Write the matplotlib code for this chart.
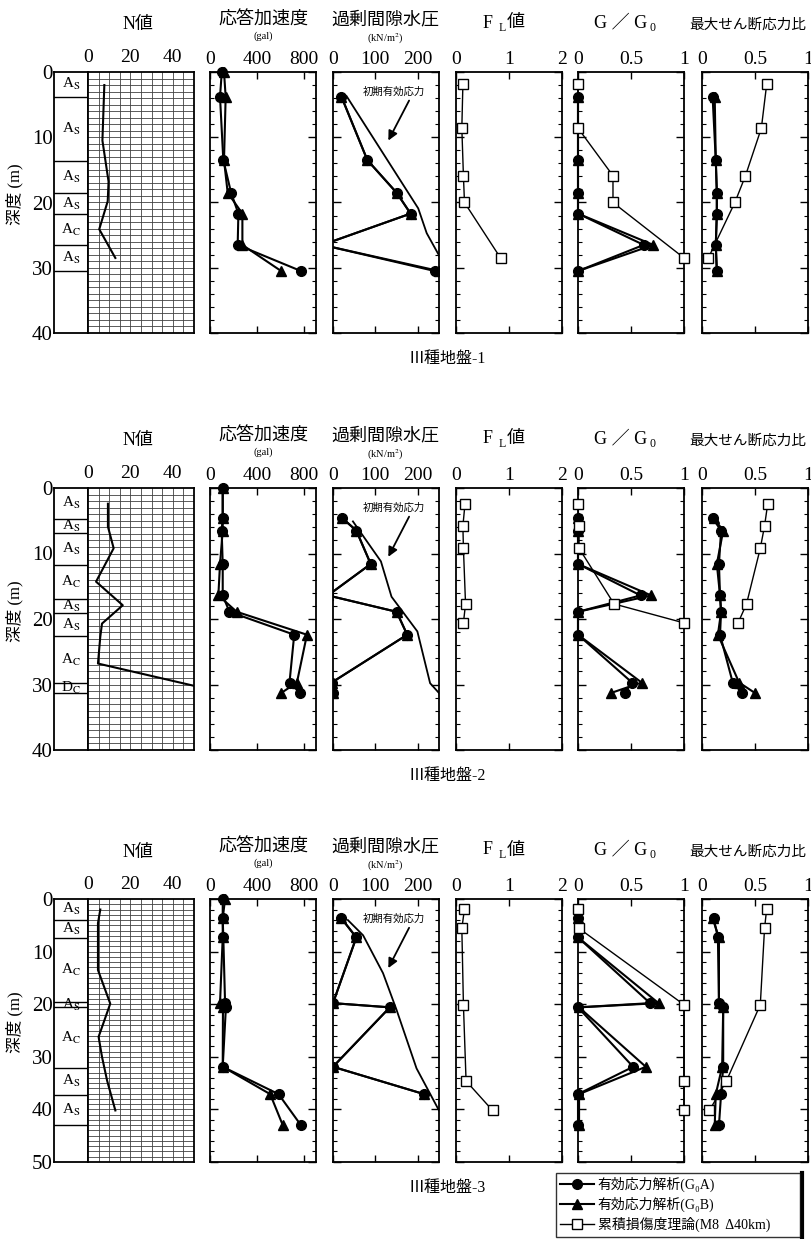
import numpy as np
import matplotlib
matplotlib.use('Agg')
import matplotlib.pyplot as plt
from matplotlib.lines import Line2D

plt.rcParams['font.family'] = ['Liberation Serif', 'Noto Sans CJK JP', 'DejaVu Sans']
plt.rcParams['mathtext.fontset'] = 'stix'

# ---- site 1 ----
s1_layer_bounds = [0, 3.8, 13.7, 18.6, 21.8, 26.5, 30.5]
s1_soils = ['As', 'As', 'As', 'As', 'Ac', 'As']
s1_n_depth = [2.0, 10.5, 16.8, 19.8, 24.1, 28.5]
s1_n_value = [7.7, 6.8, 9.7, 9.3, 5.3, 12.9]
s1_acc_depth = [0, 3.8, 13.5, 18.5, 21.7, 26.5, 30.5]
s1_acc_a = [100, 85, 113, 179, 241, 235, 772]
s1_acc_b = [119, 133, 119, 150, 275, 275, 604]
s1_depth = [3.8, 13.5, 18.5, 21.7, 26.5, 30.5]
s1_pp_a = [20, 81, 150, 183, -25, 240]
s1_pp_b = [20, 81, 150, 183, -25, 250]
s1_sig_depth = [3.7, 20.9, 24.7, 28.1]
s1_sig = [32, 201, 221, 250]
s1_gg_a = [0, 0, 0, 0, 0.62, 0]
s1_gg_b = [0, 0, 0, 0, 0.71, 0]
s1_tau_a = [0.10, 0.13, 0.14, 0.14, 0.13, 0.14]
s1_tau_b = [0.12, 0.13, 0.14, 0.14, 0.13, 0.14]
s1_sq_depth = [1.9, 8.6, 15.9, 20.0, 28.5]
s1_fl = [0.13, 0.11, 0.14, 0.16, 0.84]
s1_gg_sq = [0.0, 0.0, 0.33, 0.33, 1.0]
s1_tau_sq = [0.61, 0.56, 0.41, 0.31, 0.06]

# ---- site 2 ----
s2_layer_bounds = [0, 4.7, 6.9, 11.8, 16.9, 19.1, 22.6, 29.8, 31.3]
s2_soils = ['As', 'As', 'As', 'Ac', 'As', 'As', 'Ac', 'Dc']
s2_n_depth = [2.4, 5.9, 9.2, 14.3, 17.9, 20.7, 22.7, 26.8, 30.2]
s2_n_value = [9.4, 9.4, 12.1, 3.8, 16.4, 6.6, 5.8, 4.7, 50]
s2_acc_depth = [0, 4.6, 6.5, 11.6, 16.4, 18.9, 22.4, 29.7, 31.3]
s2_acc_a = [108, 108, 99, 108, 108, 165, 715, 675, 766]
s2_acc_b = [108, 108, 108, 85, 71, 227, 823, 738, 604]
s2_depth = [4.6, 6.5, 11.6, 16.4, 18.9, 22.4, 29.7, 31.3]
s2_pp_a = [22, 55, 89, -12, 150, 175, -3, 0]
s2_pp_b = [22, 55, 89, -12, 150, 175, -3, 0]
s2_sig_depth = [5.1, 11.2, 16.6, 21.9, 29.8, 31.3]
s2_sig = [47, 113, 138, 199, 229, 250]
s2_gg_a = [0, 0, 0, 0.59, 0, 0, 0.51, 0.44]
s2_gg_b = [0, 0, 0, 0.69, 0, 0, 0.60, 0.31]
s2_tau_a = [0.10, 0.18, 0.16, 0.17, 0.18, 0.17, 0.29, 0.38]
s2_tau_b = [0.11, 0.20, 0.14, 0.17, 0.18, 0.15, 0.35, 0.50]
s2_sq_depth = [2.4, 5.8, 9.2, 17.7, 20.6]
s2_fl = [0.17, 0.13, 0.14, 0.18, 0.14]
s2_gg_sq = [0.0, 0.01, 0.01, 0.34, 1.0]
s2_tau_sq = [0.62, 0.59, 0.55, 0.42, 0.34]

# ---- site 3 ----
s3_layer_bounds = [0, 3.9, 7.5, 19.5, 20.6, 32.1, 37.2, 43.0]
s3_soils = ['As', 'As', 'Ac', 'As', 'Ac', 'As', 'As']
s3_n_depth = [2.0, 4.6, 13.5, 19.9, 26.2, 30.0, 34.5, 40.2]
s3_n_value = [5.8, 4.7, 4.7, 10.5, 5.0, 6.6, 9.0, 12.9]
s3_acc_depth = [0, 3.7, 7.3, 19.8, 20.6, 31.9, 37.1, 43.0]
s3_acc_a = [108, 108, 113, 128, 135, 108, 582, 772]
s3_acc_b = [128, 108, 108, 85, 110, 108, 511, 618]
s3_depth = [3.7, 7.3, 19.8, 20.6, 31.9, 37.1, 43.0]
s3_pp_a = [20, 55, 0, 134, 0, 215, np.nan]
s3_pp_b = [20, 55, 0, 134, 0, 215, np.nan]
s3_sig_depth = [4.0, 6.9, 14.1, 21.1, 32.2, 40.2]
s3_sig = [35, 71, 118, 150, 197, 250]
s3_gg_a = [0, 0, 0.68, 0, 0.52, 0, 0]
s3_gg_b = [0, 0, 0.76, 0.01, 0.64, 0.01, 0.01]
s3_tau_a = [0.11, 0.15, 0.16, 0.20, 0.20, 0.18, 0.16]
s3_tau_b = [0.10, 0.16, 0.16, 0.20, 0.19, 0.13, 0.12]
s3_sq_depth = [1.9, 5.6, 20.1, 34.6, 40.2]
s3_fl = [0.16, 0.11, 0.14, 0.19, 0.69]
s3_gg_sq = [0.0, 0.01, 1.0, 1.0, 1.0]
s3_tau_sq = [0.61, 0.59, 0.55, 0.23, 0.07]

captions = ['Ⅲ種地盤-1', 'Ⅲ種地盤-2', 'Ⅲ種地盤-3']
legend_labels = ['有効応力解析(G₀A)', '有効応力解析(G₀B)', '累積損傷度理論(M8  Δ40km)']

sites = [
    dict(top=72, bottom=333, dmax=40, bounds=s1_layer_bounds, soils=s1_soils,
         nd=s1_n_depth, nv=s1_n_value, ad=s1_acc_depth, aa=s1_acc_a, ab=s1_acc_b,
         d=s1_depth, ppa=s1_pp_a, ppb=s1_pp_b, sd=s1_sig_depth, sig=s1_sig,
         gga=s1_gg_a, ggb=s1_gg_b, ta=s1_tau_a, tb=s1_tau_b,
         qd=s1_sq_depth, fl=s1_fl, ggs=s1_gg_sq, ts=s1_tau_sq),
    dict(top=488, bottom=750, dmax=40, bounds=s2_layer_bounds, soils=s2_soils,
         nd=s2_n_depth, nv=s2_n_value, ad=s2_acc_depth, aa=s2_acc_a, ab=s2_acc_b,
         d=s2_depth, ppa=s2_pp_a, ppb=s2_pp_b, sd=s2_sig_depth, sig=s2_sig,
         gga=s2_gg_a, ggb=s2_gg_b, ta=s2_tau_a, tb=s2_tau_b,
         qd=s2_sq_depth, fl=s2_fl, ggs=s2_gg_sq, ts=s2_tau_sq),
    dict(top=899, bottom=1162, dmax=50, bounds=s3_layer_bounds, soils=s3_soils,
         nd=s3_n_depth, nv=s3_n_value, ad=s3_acc_depth, aa=s3_acc_a, ab=s3_acc_b,
         d=s3_depth, ppa=s3_pp_a, ppb=s3_pp_b, sd=s3_sig_depth, sig=s3_sig,
         gga=s3_gg_a, ggb=s3_gg_b, ta=s3_tau_a, tb=s3_tau_b,
         qd=s3_sq_depth, fl=s3_fl, ggs=s3_gg_sq, ts=s3_tau_sq),
]

W, H = 811, 1239
fig = plt.figure(figsize=(W / 100, H / 100), dpi=100)


def px_axes(x0, x1, y0, y1):
    return fig.add_axes([x0 / W, 1 - y1 / H, (x1 - x0) / W, (y1 - y0) / H])


def ftext(x, y, s, **kw):
    kw.setdefault('ha', 'center')
    fig.text(x / W, 1 - y / H, s, va='center', **kw)


def setup_panel(ax, dmax, xlim, xticks, xlabels):
    ax.set_xlim(*xlim)
    ax.set_ylim(dmax, 0)
    ax.set_xticks(xticks)
    ax.set_xticklabels(xlabels)
    ax.set_yticks(np.arange(0, dmax + 1, 10))
    ax.set_yticks(np.arange(0, dmax + 1, 2), minor=True)
    ax.tick_params(axis='x', which='major', direction='in', top=True, bottom=True,
                   labeltop=True, labelbottom=False, length=5, width=1, pad=3, labelsize=14)
    ax.tick_params(axis='y', which='major', direction='in', left=True, right=True,
                   labelleft=False, length=6, width=1)
    ax.tick_params(axis='y', which='minor', direction='in', left=True, right=True,
                   length=3, width=0.8)
    for sp in ax.spines.values():
        sp.set_linewidth(1.3)


kw_a = dict(color='k', marker='o', ms=7, lw=1.5)
kw_b = dict(color='k', marker='^', ms=7.5, lw=1.5)
kw_s = dict(color='k', marker='s', ms=7, mfc='white', mec='k', mew=1, lw=1, zorder=4)

for i, s in enumerate(sites):
    top, bot, dmax = s['top'], s['bottom'], s['dmax']

    # soil column
    ax0 = px_axes(54, 88, top, bot)
    ax0.set_xlim(0, 1)
    ax0.set_ylim(dmax, 0)
    ax0.set_xticks([])
    ax0.set_yticks(np.arange(0, dmax + 1, 10))
    ax0.tick_params(axis='y', length=0, pad=1, labelsize=15)
    for b in s['bounds'][1:]:
        ax0.axhline(b, color='k', lw=1)
    for k, name in enumerate(s['soils']):
        mid = (s['bounds'][k] + s['bounds'][k + 1]) / 2
        ax0.text(0.5, mid, name[0] + r'$_{\rm ' + name[1].upper() + '}$',
                 ha='center', va='center', fontsize=11)
    for sp in ax0.spines.values():
        sp.set_linewidth(1.3)

    # N value
    ax1 = px_axes(88, 194, top, bot)
    ax1.set_xlim(0, 50)
    ax1.set_ylim(dmax, 0)
    for v in np.arange(5, 50, 5):
        ax1.axvline(v, color='0.25', lw=0.6)
    for dd in np.arange(1, dmax, 1):
        ax1.axhline(dd, color='0.25', lw=0.6)
    ax1.plot(s['nv'], s['nd'], color='k', lw=1.5)
    ax1.set_xticks([0, 20, 40])
    ax1.set_yticks([])
    ax1.xaxis.tick_top()
    ax1.tick_params(axis='x', length=0, pad=4, labelsize=14)
    for sp in ax1.spines.values():
        sp.set_linewidth(1.3)

    # acceleration
    ax2 = px_axes(210, 316, top, bot)
    setup_panel(ax2, dmax, (0, 900), [0, 400, 800], ['0', '400', '800'])
    ax2.plot(s['aa'], s['ad'], clip_on=False, **kw_a)
    ax2.plot(s['ab'], s['ad'], clip_on=False, **kw_b)

    # excess pore water pressure
    ax3 = px_axes(333, 439, top, bot)
    setup_panel(ax3, dmax, (0, 250), [0, 100, 200], ['0', '100', '200'])
    ax3.plot(s['sig'], s['sd'], color='k', lw=1.3)
    ax3.plot(s['ppa'], s['d'], **kw_a)
    ax3.plot(s['ppb'], s['d'], **kw_b)
    ax3.annotate('', xy=(0.51, 0.728), xytext=(0.73, 0.90), xycoords='axes fraction',
                 arrowprops=dict(arrowstyle='-|>', color='k', lw=1.3, mutation_scale=14))
    ax3.text(0.57, 0.925, '初期有効応力', transform=ax3.transAxes, ha='center',
             va='center', fontsize=7.5)

    # FL
    ax4 = px_axes(456, 562, top, bot)
    setup_panel(ax4, dmax, (0, 2), [0, 1, 2], ['0', '1', '2'])
    ax4.plot(s['fl'], s['qd'], clip_on=False, **kw_s)

    # G/G0
    ax5 = px_axes(578, 684, top, bot)
    setup_panel(ax5, dmax, (0, 1), [0, 0.5, 1], ['0', '0.5', '1'])
    la, = ax5.plot(s['gga'], s['d'], clip_on=False, **kw_a)
    lb, = ax5.plot(s['ggb'], s['d'], clip_on=False, **kw_b)
    ls, = ax5.plot(s['ggs'], s['qd'], clip_on=False, **kw_s)

    # max shear stress ratio
    ax6 = px_axes(702, 808, top, bot)
    setup_panel(ax6, dmax, (0, 1), [0, 0.5, 1], ['0', '0.5', '1'])
    ax6.plot(s['ta'], s['d'], clip_on=False, **kw_a)
    ax6.plot(s['tb'], s['d'], clip_on=False, **kw_b)
    ax6.plot(s['ts'], s['qd'], clip_on=False, **kw_s)

    # titles
    ftext(138, top - 47, 'N値', fontsize=13)
    ftext(263, top - 52, '応答加速度', fontsize=13)
    ftext(263, top - 36, '(gal)', fontsize=7.5)
    ftext(385, top - 52, '過剰間隙水圧', fontsize=13)
    ftext(385, top - 33, '(kN/m$^2$)', fontsize=7.5)
    ftext(488, top - 49, 'F', fontsize=13)
    ftext(502, top - 44, 'L', fontsize=8.5)
    ftext(516, top - 49, '値', fontsize=13)
    ftext(647, top - 49, 'G ／ G', fontsize=13, ha='right')
    ftext(650, top - 44, '0', fontsize=8.5, ha='left')
    ftext(748, top - 47, '最大せん断応力比', fontsize=10.5)
    ftext(15, (top + bot) / 2 - 8, '深度 (m)', fontsize=12, rotation=90)
    ftext(447, bot + 26, captions[i], fontsize=11.5)

leg = fig.legend([la, lb, ls], legend_labels, loc='upper left',
                 bbox_to_anchor=(556 / W, 0, (800 - 556) / W, 1 - 1173 / H),
                 mode='expand', frameon=True, fancybox=False,
                 edgecolor='k', fontsize=10, handlelength=2.4, handletextpad=0.3,
                 labelspacing=0.35, borderpad=0.3, borderaxespad=0)
leg.get_frame().set_linewidth(1)
fig.add_artist(Line2D([802 / W, 802 / W], [1 - 1173 / H, 0], lw=3, color='k',
                      transform=fig.transFigure))

fig.savefig('out.png', dpi=100)
